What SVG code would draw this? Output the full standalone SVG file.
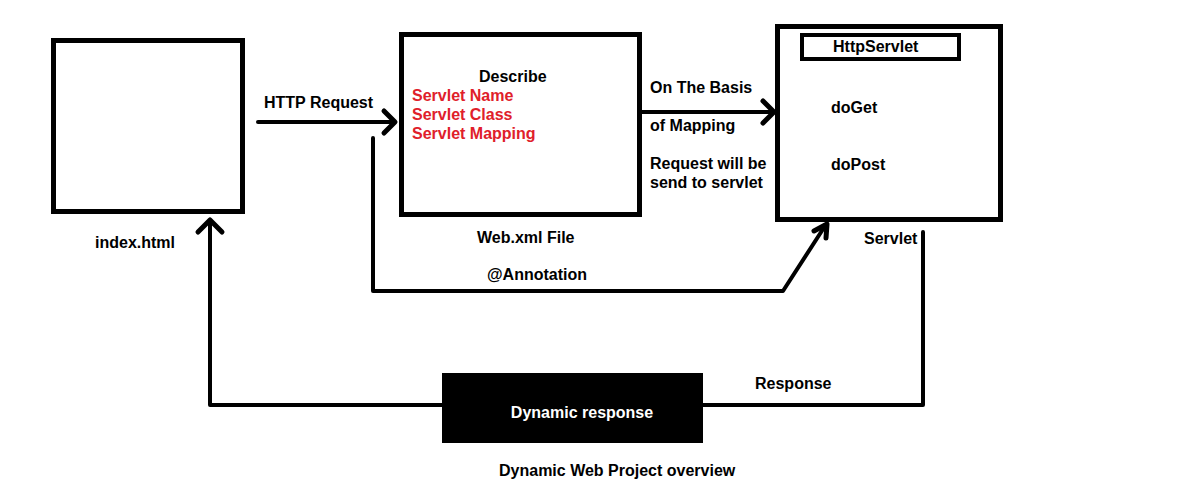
<svg xmlns="http://www.w3.org/2000/svg" width="1200" height="496" viewBox="0 0 1200 496">
<style>
text{font-family:"Liberation Sans",Arial,sans-serif;font-weight:bold;font-size:16px;fill:#000}
.red{fill:#e0202a}
.wt{fill:#fff}
.box{fill:#fff;stroke:#000;stroke-width:5}
.ln{fill:none;stroke:#000;stroke-width:4;stroke-linejoin:round;stroke-linecap:round}
.hd{fill:none;stroke:#000;stroke-width:5;stroke-linejoin:round;stroke-linecap:round}
</style>
<rect width="1200" height="496" fill="#fff"/>
<g id="connectors">
<path class="ln" d="M258 122 H394"/>
<path class="hd" d="M384 111 L395 122 L384 133"/>
<path class="ln" d="M642 112 H772"/>
<path class="hd" d="M763 101 L774 112 L763 123"/>
<path class="ln" d="M373 138 V291 H783 L825 226"/>
<path class="hd" d="M814 231 L827 224 L826 238"/>
<path class="ln" d="M923 232 V405 H703"/>
<path class="ln" d="M442 405 H210 V221"/>
<path class="hd" d="M198 232 L210 220 L222 232"/>
</g>
<g id="index">
<rect class="box" x="53.5" y="40.5" width="189" height="171"/>
<text x="95" y="248">index.html</text>
</g>
<g id="webxml">
<rect class="box" x="401.5" y="34.5" width="238" height="180"/>
<text x="479" y="82">Describe</text>
<text class="red" x="412" y="101">Servlet Name</text>
<text class="red" x="412" y="120">Servlet Class</text>
<text class="red" x="412" y="139">Servlet Mapping</text>
<text x="477" y="243">Web.xml File</text>
</g>
<g id="servlet">
<rect class="box" x="777.5" y="26.5" width="223" height="193"/>
<rect x="802" y="35" width="157" height="24" fill="#fff" stroke="#000" stroke-width="4"/>
<text x="833" y="52">HttpServlet</text>
<text x="831" y="113">doGet</text>
<text x="831" y="170">doPost</text>
<text x="864" y="244">Servlet</text>
</g>
<g id="dynamic">
<rect x="442" y="373" width="261" height="70" fill="#000"/>
<text class="wt" x="582" y="418" text-anchor="middle">Dynamic response</text>
</g>
<g id="labels">
<text x="264" y="108">HTTP Request</text>
<text x="650" y="93">On The Basis</text>
<text x="650" y="131">of Mapping</text>
<text x="650" y="169">Request will be</text>
<text x="650" y="188">send to servlet</text>
<text x="487" y="280">@Annotation</text>
<text x="755" y="389">Response</text>
<text x="499" y="476">Dynamic Web Project overview</text>
</g>
</svg>
